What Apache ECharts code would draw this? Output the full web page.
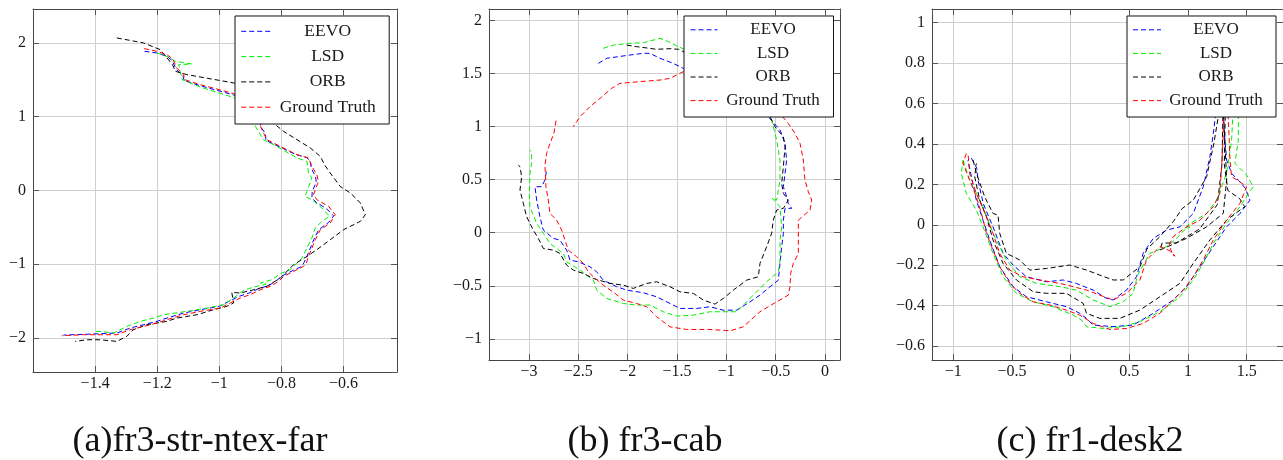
<!DOCTYPE html>
<html>
<head>
<meta charset="utf-8">
<script src="https://cdn.jsdelivr.net/npm/echarts@6/dist/echarts.min.js"></script>
<style>html,body{margin:0;padding:0;background:#fff}#c{width:1283px;height:460px}</style>
</head>
<body>
<div id="c"></div>
<script>
// ---------- data ----------
const SERIES_NAMES = ['EEVO', 'LSD', 'ORB', 'Ground Truth'];
const CAPTIONS = ['(a)fr3-str-ntex-far', '(b) fr3-cab', '(c) fr1-desk2'];

// panel (a) fr3-str-ntex-far
const A_EEVO = [[-1.241,1.887],[-1.201,1.864],[-1.169,1.819],[-1.153,1.765],[-1.139,1.647],[-1.117,1.548],[-1.113,1.489],[-1.062,1.421],[-1.008,1.358],[-0.954,1.295],[-0.90,1.20],[-0.884,1.096],[-0.870,0.997],[-0.866,0.861],[-0.852,0.771],[-0.850,0.680],[-0.808,0.595],[-0.755,0.490],[-0.718,0.445],[-0.707,0.395],[-0.704,0.305],[-0.690,0.183],[-0.688,0.111],[-0.701,-0.011],[-0.702,-0.102],[-0.688,-0.160],[-0.654,-0.250],[-0.632,-0.345],[-0.648,-0.432],[-0.680,-0.531],[-0.696,-0.667],[-0.707,-0.780],[-0.718,-0.893],[-0.727,-0.974],[-0.734,-1.028],[-0.765,-1.087],[-0.797,-1.155],[-0.815,-1.218],[-0.840,-1.286],[-0.873,-1.331],[-0.905,-1.390],[-0.937,-1.435],[-0.969,-1.503],[-1.001,-1.571],[-1.062,-1.616],[-1.115,-1.661],[-1.169,-1.729],[-1.201,-1.774],[-1.244,-1.819],[-1.287,-1.864],[-1.330,-1.932],[-1.384,-1.941],[-1.438,-1.950],[-1.502,-1.959]];
const A_LSD = [[-1.201,1.864],[-1.164,1.810],[-1.142,1.751],[-1.089,1.715],[-1.131,1.706],[-1.126,1.616],[-1.120,1.503],[-1.062,1.403],[-1.008,1.331],[-0.960,1.268],[-0.905,1.180],[-0.890,1.096],[-0.884,0.870],[-0.874,0.801],[-0.858,0.689],[-0.815,0.598],[-0.750,0.441],[-0.718,0.395],[-0.713,0.237],[-0.702,0.170],[-0.718,-0.011],[-0.724,-0.079],[-0.702,-0.125],[-0.670,-0.237],[-0.645,-0.350],[-0.670,-0.418],[-0.691,-0.508],[-0.702,-0.644],[-0.718,-0.780],[-0.734,-0.915],[-0.750,-0.983],[-0.772,-1.073],[-0.804,-1.128],[-0.831,-1.209],[-0.868,-1.254],[-0.850,-1.270],[-0.890,-1.309],[-0.922,-1.354],[-0.954,-1.458],[-0.986,-1.548],[-1.040,-1.593],[-1.105,-1.638],[-1.180,-1.684],[-1.212,-1.729],[-1.255,-1.774],[-1.298,-1.842],[-1.330,-1.910],[-1.341,-1.932],[-1.384,-1.910],[-1.400,-1.910]];
const A_ORB = [[-1.330,2.068],[-1.244,2.000],[-1.191,1.910],[-1.169,1.800],[-1.150,1.700],[-1.142,1.616],[-1.105,1.571],[-0.954,1.458],[-0.880,1.420],[-0.860,1.200],[-0.858,1.096],[-0.826,0.915],[-0.793,0.801],[-0.750,0.689],[-0.707,0.576],[-0.675,0.462],[-0.660,0.340],[-0.643,0.237],[-0.611,0.056],[-0.578,-0.034],[-0.546,-0.169],[-0.530,-0.328],[-0.546,-0.418],[-0.600,-0.531],[-0.643,-0.667],[-0.686,-0.802],[-0.718,-0.893],[-0.761,-1.006],[-0.804,-1.187],[-0.847,-1.299],[-0.890,-1.345],[-0.933,-1.390],[-0.960,-1.380],[-0.954,-1.525],[-0.976,-1.571],[-1.019,-1.616],[-1.072,-1.684],[-1.137,-1.729],[-1.169,-1.774],[-1.234,-1.819],[-1.277,-1.887],[-1.298,-1.977],[-1.330,-2.045],[-1.384,-2.023],[-1.427,-2.023],[-1.464,-2.045]];
const A_GT = [[-1.242,1.923],[-1.201,1.887],[-1.169,1.842],[-1.150,1.783],[-1.137,1.661],[-1.115,1.571],[-1.112,1.503],[-1.062,1.435],[-1.008,1.376],[-0.954,1.313],[-0.895,1.210],[-0.879,1.005],[-0.863,0.824],[-0.847,0.689],[-0.804,0.598],[-0.750,0.485],[-0.713,0.441],[-0.702,0.327],[-0.686,0.214],[-0.681,0.123],[-0.697,-0.057],[-0.686,-0.125],[-0.648,-0.216],[-0.627,-0.328],[-0.643,-0.441],[-0.675,-0.531],[-0.691,-0.667],[-0.702,-0.780],[-0.713,-0.893],[-0.720,-0.983],[-0.729,-1.028],[-0.761,-1.096],[-0.793,-1.164],[-0.809,-1.232],[-0.836,-1.299],[-0.868,-1.345],[-0.901,-1.412],[-0.933,-1.458],[-0.965,-1.525],[-0.997,-1.593],[-1.062,-1.638],[-1.115,-1.684],[-1.169,-1.751],[-1.201,-1.797],[-1.244,-1.842],[-1.287,-1.887],[-1.330,-1.955],[-1.384,-1.955],[-1.438,-1.955],[-1.507,-1.968]];

// panel (b) fr3-cab
const B_EEVO = [[-2.297,1.597],[-2.213,1.645],[-1.976,1.676],[-1.841,1.692],[-1.774,1.692],[-1.672,1.645],[-1.537,1.597],[-1.436,1.550],[-1.200,1.500],[-0.900,1.380],[-0.750,1.280],[-0.642,1.189],[-0.591,1.110],[-0.456,0.969],[-0.405,0.843],[-0.389,0.686],[-0.405,0.560],[-0.422,0.434],[-0.389,0.340],[-0.372,0.277],[-0.338,0.230],[-0.405,0.230],[-0.422,0.119],[-0.422,-0.006],[-0.439,-0.132],[-0.456,-0.289],[-0.473,-0.447],[-0.557,-0.509],[-0.659,-0.588],[-0.760,-0.651],[-0.895,-0.730],[-1.030,-0.730],[-1.166,-0.698],[-1.301,-0.714],[-1.470,-0.714],[-1.571,-0.667],[-1.706,-0.604],[-1.841,-0.566],[-2.010,-0.541],[-2.111,-0.509],[-2.247,-0.447],[-2.314,-0.368],[-2.382,-0.321],[-2.500,-0.274],[-2.584,-0.258],[-2.618,-0.164],[-2.686,-0.069],[-2.753,-0.053],[-2.855,0.025],[-2.889,0.151],[-2.922,0.308],[-2.939,0.434],[-2.872,0.434],[-2.838,0.497],[-2.821,0.591]];
const B_LSD = [[-2.247,1.739],[-2.145,1.770],[-1.976,1.786],[-1.841,1.792],[-1.672,1.833],[-1.588,1.802],[-1.486,1.755],[-1.300,1.680],[-1.000,1.550],[-0.750,1.380],[-0.591,1.189],[-0.541,1.063],[-0.490,0.874],[-0.456,0.686],[-0.456,0.497],[-0.473,0.403],[-0.490,0.308],[-0.540,0.330],[-0.456,0.245],[-0.439,0.057],[-0.456,-0.069],[-0.456,-0.258],[-0.473,-0.368],[-0.591,-0.462],[-0.693,-0.557],[-0.794,-0.651],[-0.895,-0.745],[-1.064,-0.745],[-1.166,-0.745],[-1.334,-0.777],[-1.503,-0.786],[-1.639,-0.745],[-1.774,-0.682],[-1.909,-0.682],[-2.044,-0.667],[-2.213,-0.619],[-2.314,-0.541],[-2.348,-0.447],[-2.483,-0.352],[-2.618,-0.274],[-2.652,-0.195],[-2.787,-0.101],[-2.855,-0.006],[-2.922,0.088],[-2.990,0.245],[-2.997,0.371],[-2.990,0.560],[-2.973,0.654],[-2.973,0.748],[-2.990,0.780]];
const B_ORB = [[-2.010,1.770],[-1.909,1.755],[-1.706,1.730],[-1.571,1.736],[-1.486,1.730],[-1.300,1.650],[-1.000,1.500],[-0.750,1.320],[-0.625,1.189],[-0.557,1.094],[-0.507,1.000],[-0.422,0.906],[-0.405,0.811],[-0.422,0.623],[-0.439,0.465],[-0.422,0.371],[-0.372,0.308],[-0.422,0.230],[-0.490,0.214],[-0.524,0.119],[-0.541,-0.006],[-0.591,-0.132],[-0.659,-0.289],[-0.676,-0.415],[-0.794,-0.447],[-0.929,-0.541],[-1.030,-0.619],[-1.115,-0.673],[-1.233,-0.635],[-1.334,-0.572],[-1.470,-0.557],[-1.571,-0.509],[-1.706,-0.462],[-1.807,-0.478],[-1.943,-0.525],[-2.044,-0.494],[-2.179,-0.478],[-2.348,-0.431],[-2.449,-0.384],[-2.551,-0.352],[-2.618,-0.305],[-2.686,-0.195],[-2.753,-0.164],[-2.855,-0.148],[-2.905,-0.053],[-2.956,0.025],[-3.024,0.151],[-3.057,0.277],[-3.091,0.403],[-3.074,0.528],[-3.091,0.623],[-3.108,0.638]];
const B_GT = [[-2.726,1.057],[-2.747,0.937],[-2.787,0.843],[-2.821,0.748],[-2.838,0.638],[-2.828,0.434],[-2.804,0.308],[-2.787,0.182],[-2.720,0.119],[-2.669,0.025],[-2.635,-0.069],[-2.601,-0.164],[-2.517,-0.226],[-2.449,-0.289],[-2.399,-0.368],[-2.348,-0.415],[-2.247,-0.494],[-2.128,-0.572],[-2.044,-0.635],[-1.909,-0.667],[-1.807,-0.698],[-1.706,-0.792],[-1.571,-0.887],[-1.402,-0.912],[-1.166,-0.912],[-0.963,-0.925],[-0.828,-0.887],[-0.659,-0.745],[-0.490,-0.651],[-0.372,-0.588],[-0.355,-0.509],[-0.348,-0.384],[-0.321,-0.289],[-0.270,-0.195],[-0.270,-0.069],[-0.270,0.119],[-0.152,0.214],[-0.135,0.308],[-0.169,0.387],[-0.203,0.497],[-0.220,0.686],[-0.253,0.843],[-0.304,0.937],[-0.372,1.031],[-0.490,1.157],[-0.600,1.260],[-0.800,1.420],[-1.100,1.530],[-1.300,1.560],[-1.436,1.519],[-1.571,1.456],[-1.672,1.440],[-1.875,1.425],[-2.078,1.409],[-2.162,1.362],[-2.280,1.267],[-2.382,1.189],[-2.483,1.094],[-2.551,1.000]];

// panel (c) fr1-desk2
const C_EEVO = [[-0.846,0.330],[-0.800,0.280],[-0.790,0.221],[-0.745,0.105],[-0.662,-0.010],[-0.576,-0.141],[-0.491,-0.199],[-0.377,-0.257],[-0.206,-0.282],[-0.064,-0.273],[0.049,-0.290],[0.192,-0.323],[0.305,-0.364],[0.362,-0.372],[0.476,-0.323],[0.561,-0.257],[0.618,-0.141],[0.704,-0.067],[0.817,-0.026],[0.931,-0.010],[1.045,0.056],[1.130,0.188],[1.187,0.337],[1.216,0.452],[1.244,0.584],[1.260,0.680],[1.300,0.660],[1.301,0.568],[1.310,0.450],[1.330,0.320],[1.372,0.254],[1.430,0.220],[1.490,0.180],[1.528,0.122],[1.443,0.056],[1.329,-0.010],[1.216,-0.108],[1.102,-0.207],[0.988,-0.306],[0.874,-0.372],[0.704,-0.438],[0.533,-0.496],[0.362,-0.504],[0.192,-0.496],[0.135,-0.463],[0.078,-0.438],[-0.036,-0.405],[-0.206,-0.381],[-0.377,-0.356],[-0.491,-0.306],[-0.605,-0.207],[-0.690,-0.075],[-0.747,0.023],[-0.804,0.122],[-0.846,0.238],[-0.875,0.320]];
const C_LSD = [[-0.918,0.320],[-0.861,0.221],[-0.747,0.090],[-0.662,-0.042],[-0.548,-0.174],[-0.434,-0.257],[-0.292,-0.290],[-0.093,-0.306],[0.049,-0.323],[0.192,-0.372],[0.334,-0.405],[0.448,-0.381],[0.533,-0.339],[0.570,-0.250],[0.675,-0.141],[0.817,-0.108],[0.900,-0.070],[0.960,-0.030],[1.016,-0.010],[0.980,-0.020],[1.000,0.000],[1.159,0.056],[1.244,0.122],[1.329,0.254],[1.372,0.419],[1.386,0.584],[1.400,0.660],[1.430,0.580],[1.429,0.419],[1.400,0.304],[1.500,0.246],[1.557,0.188],[1.514,0.155],[1.443,0.089],[1.329,0.007],[1.216,-0.092],[1.130,-0.191],[1.045,-0.273],[0.931,-0.356],[0.761,-0.430],[0.590,-0.479],[0.448,-0.504],[0.278,-0.513],[0.135,-0.504],[0.092,-0.471],[0.021,-0.447],[-0.150,-0.405],[-0.320,-0.381],[-0.462,-0.339],[-0.576,-0.257],[-0.662,-0.141],[-0.747,-0.010],[-0.804,0.073],[-0.889,0.155],[-0.932,0.254],[-0.918,0.320]];
const C_ORB = [[-0.832,0.320],[-0.800,0.250],[-0.733,0.139],[-0.662,0.056],[-0.619,0.048],[-0.605,-0.042],[-0.548,-0.141],[-0.434,-0.174],[-0.349,-0.224],[-0.206,-0.216],[-0.007,-0.199],[0.135,-0.224],[0.249,-0.249],[0.362,-0.273],[0.448,-0.273],[0.591,-0.207],[0.650,-0.120],[0.760,-0.059],[0.880,0.020],[0.950,0.080],[1.045,0.122],[1.159,0.238],[1.220,0.400],[1.272,0.584],[1.300,0.660],[1.300,0.584],[1.330,0.222],[1.301,0.057],[1.159,-0.010],[0.988,-0.067],[0.760,-0.125],[0.780,-0.090],[0.900,-0.090],[1.100,-0.020],[1.250,0.100],[1.290,0.300],[1.300,0.620],[1.320,0.620],[1.310,0.300],[1.340,0.170],[1.440,0.130],[1.483,0.090],[1.329,0.023],[1.187,-0.075],[1.045,-0.191],[0.931,-0.290],[0.761,-0.356],[0.590,-0.422],[0.419,-0.463],[0.249,-0.463],[0.135,-0.438],[0.107,-0.389],[-0.036,-0.339],[-0.206,-0.339],[-0.320,-0.331],[-0.462,-0.273],[-0.576,-0.191],[-0.662,-0.075],[-0.718,0.040],[-0.775,0.122],[-0.818,0.238],[-0.804,0.304]];
const C_GT = [[-0.889,0.353],[-0.918,0.304],[-0.861,0.221],[-0.804,0.139],[-0.761,0.057],[-0.718,-0.042],[-0.662,-0.125],[-0.605,-0.207],[-0.519,-0.290],[-0.434,-0.339],[-0.320,-0.381],[-0.178,-0.397],[-0.036,-0.422],[0.078,-0.447],[0.192,-0.488],[0.334,-0.518],[0.476,-0.513],[0.618,-0.488],[0.761,-0.438],[0.860,-0.381],[0.960,-0.323],[1.045,-0.257],[1.130,-0.174],[1.216,-0.075],[1.329,0.023],[1.443,0.106],[1.500,0.188],[1.443,0.213],[1.372,0.238],[1.358,0.320],[1.352,0.419],[1.344,0.518],[1.335,0.620],[1.320,0.680],[1.300,0.620],[1.301,0.452],[1.287,0.287],[1.272,0.155],[1.216,0.090],[1.102,0.023],[0.988,-0.010],[0.874,-0.059],[0.840,-0.100],[0.870,-0.150],[0.890,-0.155],[0.850,-0.130],[0.761,-0.108],[0.647,-0.174],[0.590,-0.273],[0.476,-0.339],[0.362,-0.372],[0.249,-0.348],[0.135,-0.323],[0.021,-0.306],[-0.093,-0.290],[-0.263,-0.273],[-0.406,-0.257],[-0.519,-0.224],[-0.605,-0.141],[-0.662,-0.042],[-0.718,0.040],[-0.804,0.155],[-0.861,0.254],[-0.875,0.353]];

// axis ranges and tick steps per panel
const X_RANGES = [[-1.6, -0.428], [-3.405, 0.152], [-1.182, 1.81]];
const Y_RANGES = [[-2.46, 2.46], [-1.2, 2.11], [-0.669, 1.068]];
const X_STEPS = [0.2, 0.5, 0.5];
const Y_STEPS = [1, 0.5, 0.2];

// ---------- chart ----------
const PANEL_DATA = [
  [A_EEVO, A_LSD, A_ORB, A_GT],
  [B_EEVO, B_LSD, B_ORB, B_GT],
  [C_EEVO, C_LSD, C_ORB, C_GT]
];
const COLORS = ['#0000ff', '#00ee00', '#000000', '#ff0000'];
const GRIDS = [
  {left: 33, top: 9, width: 364, height: 363},
  {left: 489, top: 9, width: 351, height: 351},
  {left: 932, top: 9, width: 351, height: 351}
];
const FONT = 'Liberation Serif';
const fmt = v => (Math.round(v * 1000) / 1000).toString().replace('-', '\u2212');

function axis(kind, i, mirror) {
  const r = kind === 'x' ? X_RANGES[i] : Y_RANGES[i];
  const step = kind === 'x' ? X_STEPS[i] : Y_STEPS[i];
  const span = r[1] - r[0];
  return {
    type: 'value', gridIndex: i,
    position: kind === 'x' ? (mirror ? 'top' : 'bottom') : (mirror ? 'right' : 'left'),
    min: r[0], max: r[1],
    splitNumber: Math.round(span / step),
    minInterval: step, maxInterval: step,
    axisLine: {show: true, onZero: false, lineStyle: {color: '#444', width: 1}},
    axisTick: {show: true, inside: true, length: 6, lineStyle: {color: '#555', width: 1}},
    axisLabel: {
      show: !mirror, showMinLabel: false, showMaxLabel: false,
      margin: kind === 'x' ? 4 : 7,
      fontFamily: FONT, fontSize: 16, color: '#1a1a1a', formatter: fmt
    },
    splitLine: {show: !mirror, lineStyle: {color: '#cfcfcf', width: 1}}
  };
}

const xAxis = [], yAxis = [], series = [];
for (let i = 0; i < 3; i++) {
  xAxis.push(axis('x', i, false), axis('x', i, true));
  yAxis.push(axis('y', i, false), axis('y', i, true));
  PANEL_DATA[i].forEach((d, k) => {
    series.push({
      type: 'line', name: SERIES_NAMES[k],
      xAxisIndex: 2 * i, yAxisIndex: 2 * i,
      data: d, symbol: 'none', showSymbol: false, smooth: false,
      lineStyle: {color: COLORS[k], width: 1, type: [5, 3]},
      itemStyle: {color: COLORS[k]},
      emphasis: {disabled: true}, silent: true
    });
  });
}

const LEGENDS = [
  {left: 235, top: 16, itemWidth: 29, itemGap: 7.3, textW: 105, font: 17.5, padding: [6.3, 9, 7.8, 5.7]},
  {left: 684, top: 16, itemWidth: 27, itemGap: 6.6, textW: 101, font: 17, padding: [5.3, 10, 7.9, 6]},
  {left: 1127, top: 16, itemWidth: 28, itemGap: 6.6, textW: 100, font: 17, padding: [5.3, 10, 7.9, 5.5]}
];
const legend = LEGENDS.map(L => ({
  orient: 'vertical', left: L.left, top: L.top,
  data: SERIES_NAMES, itemWidth: L.itemWidth, itemHeight: 14, itemGap: L.itemGap,
  padding: L.padding, backgroundColor: '#fff', borderColor: '#111', borderWidth: 1,
  borderRadius: 0, selectedMode: false,
  itemStyle: {color: 'rgba(0,0,0,0)', borderColor: 'rgba(0,0,0,0)', borderWidth: 0, opacity: 0},
  lineStyle: {type: [5, 3], width: 1},
  formatter: n => '{t|' + n + '}',
  textStyle: {
    fontFamily: FONT, fontSize: L.font, color: '#1a1a1a', lineHeight: 14,
    rich: {t: {width: L.textW, align: 'center', fontFamily: FONT, fontSize: L.font, color: '#1a1a1a', lineHeight: 14}}
  }
}));

const CAPTION_X = [200, 645, 1090];
const graphic = CAPTIONS.map((t, i) => ({
  type: 'text', x: CAPTION_X[i], y: 442, silent: true,
  style: {text: t, fontFamily: FONT, fontSize: 36, fill: '#111', align: 'center', verticalAlign: 'middle'}
}));

const chart = echarts.init(document.getElementById('c'), null, {renderer: 'canvas'});
chart.setOption({
  animation: false,
  backgroundColor: '#fff',
  grid: GRIDS.map(g => Object.assign({containLabel: false}, g)),
  xAxis, yAxis, series, legend, graphic
});
</script>
</body>
</html>
